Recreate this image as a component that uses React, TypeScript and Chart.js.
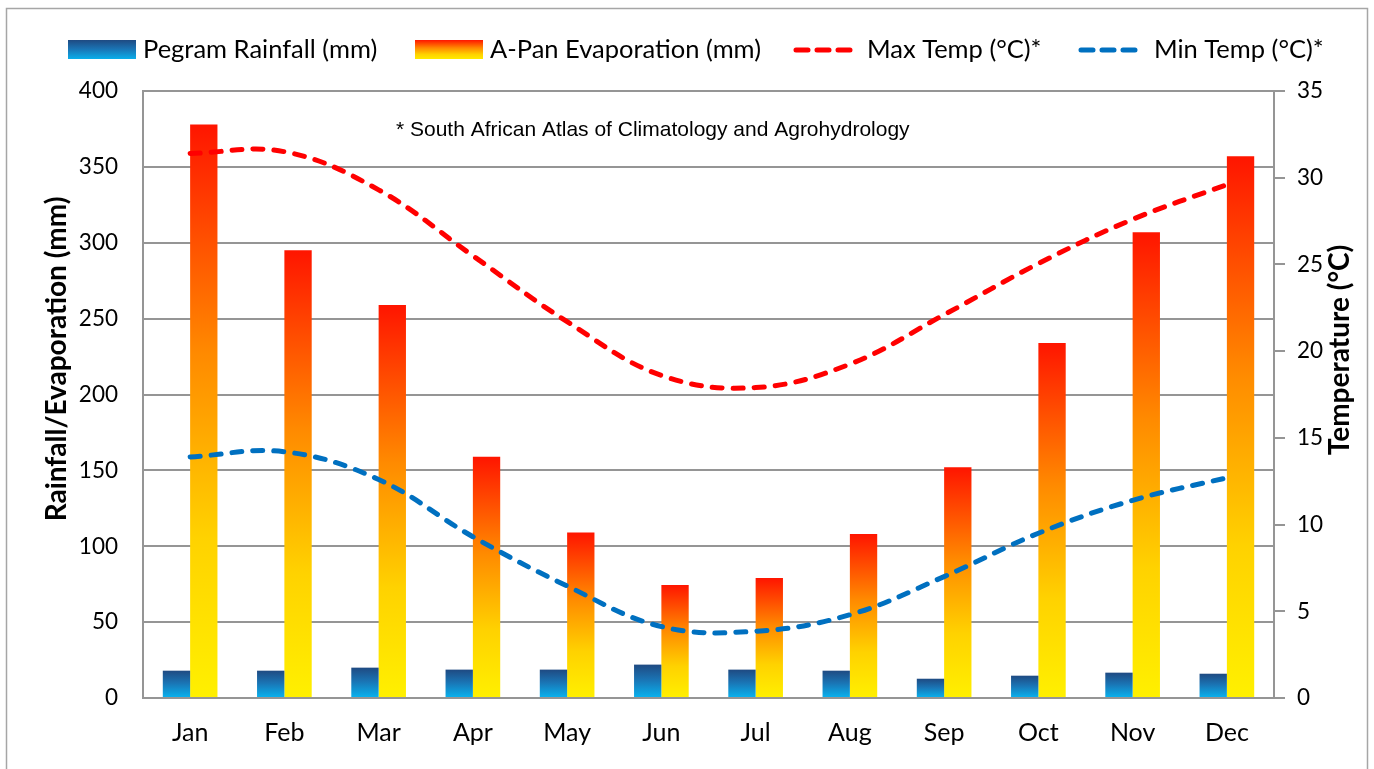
import React, { useEffect, useRef } from "react";
import { Chart, registerables } from "chart.js";

Chart.register(...registerables);

const months = ["Jan", "Feb", "Mar", "Apr", "May", "Jun", "Jul", "Aug", "Sep", "Oct", "Nov", "Dec"];
const rainfall = [18.0, 18.0, 20.0, 18.7, 18.7, 22.0, 18.7, 18.0, 12.7, 14.7, 16.7, 16.0];
const evaporation = [378, 295, 259, 159, 109, 74.5, 79, 108, 152, 234, 307, 357];
const maxTemp = [31.4, 31.5, 29.3, 25.5, 21.7, 18.6, 17.9, 19.25, 22.1, 25.05, 27.6, 29.6];
const minTemp = [13.9, 14.2, 12.6, 9.3, 6.46, 4.12, 3.85, 4.8, 7.0, 9.5, 11.4, 12.7];

const seriesNames = ["Pegram Rainfall (mm)", "A-Pan Evaporation (mm)", "Max Temp (°C)*", "Min Temp (°C)*"];
const leftTitle = "Rainfall/Evaporation (mm)";
const rightTitle = "Temperature (°C)";
const note = "* South African Atlas of Climatology and Agrohydrology";

const rainStops: [number, string][] = [
  [0, "#1f4a82"],
  [0.45, "#1a74b4"],
  [1, "#08b4f0"],
];
const evapStops: [number, string][] = [
  [0, "#ff1500"],
  [0.4, "#ff8a00"],
  [0.72, "#ffd200"],
  [1, "#fff000"],
];
const maxColor = "#ff0000";
const minColor = "#0070c0";
const gridColor = "#959595";
const FONT = "Lato, 'Open Sans', sans-serif";

function barGradient(ctx: any, stops: [number, string][]) {
  const chart = ctx.chart;
  if (!chart.chartArea || ctx.type !== "data") return stops[stops.length - 1][1];
  const yScale = chart.scales.y;
  const v = ctx.raw as number;
  const top = yScale.getPixelForValue(v);
  const bottom = yScale.getPixelForValue(0);
  if (!isFinite(top) || !isFinite(bottom) || top === bottom) return stops[0][1];
  const g = chart.ctx.createLinearGradient(0, top, 0, bottom);
  stops.forEach(([o, c]) => g.addColorStop(o, c));
  return g;
}

const decorPlugin = {
  id: "decor",
  beforeDraw(chart: any) {
    const c = chart.ctx;
    c.save();
    c.fillStyle = "#ffffff";
    c.fillRect(0, 0, chart.width, chart.height);
    c.restore();
  },
  afterDraw(chart: any) {
    const c = chart.ctx as CanvasRenderingContext2D;
    c.save();
    // outer frame
    c.strokeStyle = "#a6a6a6";
    c.lineWidth = 1.5;
    c.strokeRect(6.5, 8.5, 1361, 800);

    // legend
    c.font = `25.5px ${FONT}`;
    c.fillStyle = "#000";
    c.textBaseline = "middle";
    c.textAlign = "left";
    const ly = 50;
    const drawGradBox = (x: number, stops: [number, string][]) => {
      const g = c.createLinearGradient(0, ly - 10, 0, ly + 10);
      stops.forEach(([o, col]) => g.addColorStop(o, col));
      c.fillStyle = g;
      c.fillRect(x, ly - 10, 68, 19);
    };
    const drawDash = (x: number, color: string) => {
      c.strokeStyle = color;
      c.lineWidth = 5;
      c.lineCap = "round";
      c.setLineDash([12, 9]);
      c.beginPath();
      c.moveTo(x + 3, ly);
      c.lineTo(x + 64, ly);
      c.stroke();
      c.setLineDash([]);
    };
    drawGradBox(68, rainStops);
    drawGradBox(415, evapStops);
    drawDash(793, maxColor);
    drawDash(1078, minColor);
    c.fillStyle = "#000";
    c.fillText(seriesNames[0], 143, ly);
    c.fillText(seriesNames[1], 490, ly);
    c.fillText(seriesNames[2], 867, ly);
    c.fillText(seriesNames[3], 1154, ly);

    // note
    c.font = `21px 'Liberation Sans', Arial, sans-serif`;
    c.fillText(note, 396, 130);

    // axis titles
    c.font = `bold 28px ${FONT}`;
    c.textAlign = "center";
    c.save();
    c.translate(57, 359);
    c.rotate(-Math.PI / 2);
    c.fillText(leftTitle, 0, 0);
    c.restore();
    c.save();
    c.translate(1340, 350);
    c.rotate(-Math.PI / 2);
    c.fillText(rightTitle, 0, 0);
    c.restore();
    c.restore();
  },
};

export default function App() {
  const ref = useRef<HTMLCanvasElement>(null);
  useEffect(() => {
    if (!ref.current) return;
    const chart = new Chart(ref.current, {
      type: "bar",
      data: {
        labels: months,
        datasets: [
          {
            type: "line",
            label: seriesNames[2],
            data: maxTemp,
            yAxisID: "y1",
            borderColor: maxColor,
            backgroundColor: maxColor,
            borderWidth: 5,
            borderDash: [10, 11],
            borderCapStyle: "round",
            pointRadius: 0,
            tension: 0.38,
            fill: false,
            order: 0,
          },
          {
            type: "line",
            label: seriesNames[3],
            data: minTemp,
            yAxisID: "y1",
            borderColor: minColor,
            backgroundColor: minColor,
            borderWidth: 5,
            borderDash: [10, 11],
            borderCapStyle: "round",
            pointRadius: 0,
            tension: 0.38,
            fill: false,
            order: 0,
          },
          {
            type: "bar",
            label: seriesNames[0],
            data: rainfall,
            yAxisID: "y",
            backgroundColor: (ctx: any) => barGradient(ctx, rainStops),
            barPercentage: 1,
            categoryPercentage: 0.58,
            order: 1,
          },
          {
            type: "bar",
            label: seriesNames[1],
            data: evaporation,
            yAxisID: "y",
            backgroundColor: (ctx: any) => barGradient(ctx, evapStops),
            barPercentage: 1,
            categoryPercentage: 0.58,
            order: 1,
          },
        ],
      } as any,
      options: {
        responsive: false,
        animation: false,
        layout: { padding: { top: 91, left: 0, right: 0, bottom: 0 } },
        plugins: {
          legend: { display: false },
          tooltip: { enabled: false },
          title: { display: false },
        },
        scales: {
          x: {
            grid: { display: false, drawTicks: false },
            border: { display: true, color: gridColor, width: 2 },
            ticks: { color: "#000", font: { family: FONT, size: 25 }, padding: 20, maxRotation: 0 },
            afterFit: (s: any) => {
              s.height = 71;
            },
          },
          y: {
            position: "left",
            min: 0,
            max: 400,
            ticks: { stepSize: 50, color: "#000", font: { family: FONT, size: 22.5 }, padding: 25 },
            grid: { color: gridColor, lineWidth: 2, drawTicks: false },
            border: { display: true, color: gridColor, width: 2 },
            afterFit: (s: any) => {
              s.width = 143;
            },
          },
          y1: {
            position: "right",
            min: 0,
            max: 35,
            ticks: { stepSize: 5, color: "#000", font: { family: FONT, size: 22.5 }, padding: 12 },
            grid: { drawOnChartArea: false, drawTicks: true, tickLength: 11, color: gridColor, lineWidth: 2 },
            border: { display: true, color: gridColor, width: 2 },
            afterFit: (s: any) => {
              s.width = 100;
            },
          },
        },
      } as any,
      plugins: [decorPlugin],
    });
    return () => chart.destroy();
  }, []);
  return (
    <div style={{ position: "fixed", left: 0, top: 0, width: 1374, height: 769, background: "#fff" }}>
      <canvas ref={ref} width={1374} height={769} style={{ display: "block" }} />
    </div>
  );
}
